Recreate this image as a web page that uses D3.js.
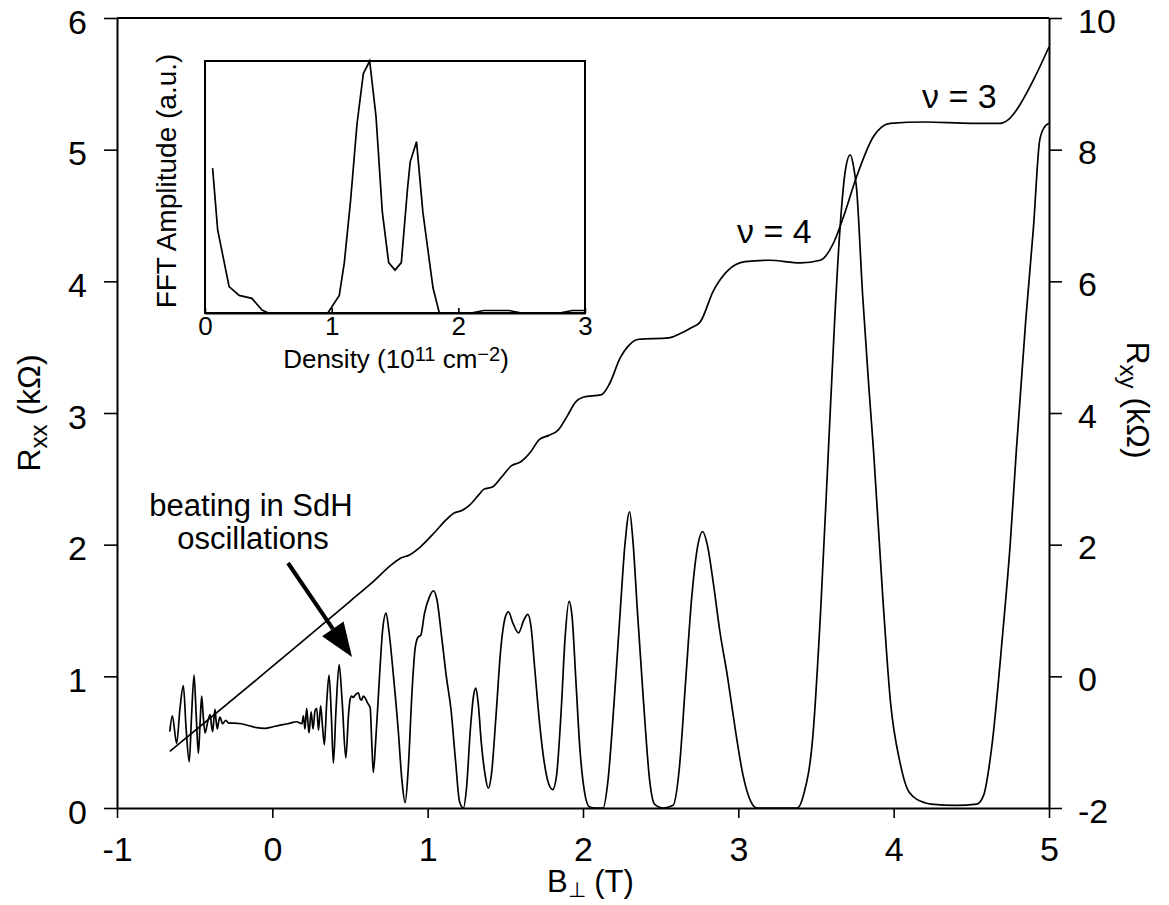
<!DOCTYPE html>
<html>
<head>
<meta charset="utf-8">
<script src="https://cdn.jsdelivr.net/npm/d3@7"></script>
<style>
  body { margin: 0; background: #fff; }
  svg { font-family: "Liberation Sans", Arial, sans-serif; }
</style>
</head>
<body>
<div id="chart"></div>
<script>
// ---- data ----
// Rxx (kΩ, left axis) vs B (T)
var rxxB = [-0.66,-0.644,-0.616,-0.595,-0.573,-0.555,-0.535,-0.52,-0.504,-0.49,-0.476,-0.465,-0.455,-0.445,-0.433,-0.415,-0.40,-0.392,-0.384,-0.376,-0.369,-0.362,-0.354,-0.345,-0.337,-0.32,-0.30,-0.28,-0.25,-0.2,-0.15,-0.1,-0.05,0,0.05,0.1,0.157,0.19,0.2,0.21,0.221,0.236,0.25,0.262,0.275,0.286,0.297,0.311,0.323,0.335,0.35,0.365,0.38,0.393,0.41,0.43,0.45,0.473,0.49,0.50,0.51,0.52,0.535,0.554,0.565,0.575,0.585,0.596,0.612,0.63,0.64,0.65,0.665,0.69,0.71,0.732,0.75,0.78,0.81,0.835,0.855,0.875,0.9,0.92,0.94,0.955,0.98,1.01,1.037,1.06,1.09,1.12,1.15,1.18,1.205,1.23,1.25,1.275,1.295,1.31,1.325,1.345,1.37,1.39,1.41,1.44,1.47,1.50,1.52,1.55,1.585,1.62,1.645,1.665,1.69,1.72,1.75,1.78,1.805,1.83,1.86,1.885,1.91,1.93,1.955,1.98,2.01,2.04,2.08,2.13,2.16,2.2,2.24,2.27,2.30,2.32,2.35,2.39,2.43,2.46,2.517,2.58,2.62,2.66,2.7,2.74,2.77,2.80,2.84,2.88,2.93,2.98,3.03,3.08,3.12,3.38,3.42,3.48,3.53,3.58,3.62,3.655,3.69,3.72,3.745,3.76,3.8,3.84,3.87,3.93,3.98,4.04,4.1,4.2,4.24,4.4,4.535,4.58,4.63,4.7,4.75,4.79,4.85,4.9,4.94,4.97,5.0];
var rxxVal = [0.58,0.70,0.49,0.75,0.93,0.6,0.35,0.7,1.01,0.7,0.415,0.65,0.85,0.7,0.57,0.66,0.71,0.63,0.58,0.68,0.75,0.66,0.60,0.66,0.69,0.64,0.665,0.645,0.645,0.64,0.625,0.61,0.605,0.615,0.63,0.64,0.655,0.64,0.7,0.6,0.757,0.57,0.73,0.6,0.74,0.757,0.59,0.775,0.62,0.48,0.8,1.01,0.7,0.34,0.75,1.09,0.8,0.38,0.7,0.82,0.85,0.84,0.86,0.875,0.83,0.82,0.85,0.84,0.8,0.76,0.5,0.27,0.5,1.0,1.35,1.48,1.35,1.0,0.6,0.2,0.04,0.3,0.9,1.22,1.30,1.31,1.48,1.6,1.65,1.58,1.3,1.0,0.75,0.35,0.05,0.0,0.15,0.6,0.85,0.91,0.8,0.5,0.25,0.15,0.25,0.7,1.2,1.45,1.49,1.4,1.33,1.43,1.47,1.38,1.05,0.65,0.35,0.18,0.14,0.25,0.75,1.3,1.57,1.45,0.95,0.45,0.12,0.01,0,0,0.2,0.8,1.5,2.0,2.25,2.05,1.5,0.8,0.2,0.03,0,0.02,0.3,0.95,1.6,2.0,2.1,2.0,1.7,1.35,1.0,0.6,0.25,0.05,0,0,0.1,0.55,1.5,2.72,3.7,4.41,4.85,4.96,4.85,4.72,3.9,3.2,2.72,1.6,0.8,0.35,0.12,0.04,0.03,0.02,0.03,0.1,0.45,1.3,2.0,2.72,3.7,4.41,5.07,5.17,5.2];

// Rxy (kΩ, right axis) vs B (T)
var rxyB = [-0.66,0.36,0.5,0.64,0.78,0.83,0.88,0.95,1.05,1.12,1.17,1.22,1.27,1.33,1.36,1.42,1.48,1.54,1.6,1.66,1.72,1.78,1.84,1.9,1.95,2.0,2.12,2.17,2.24,2.3,2.36,2.55,2.62,2.7,2.754,2.84,2.93,3.044,3.2,3.4,3.527,3.62,3.677,3.76,3.87,3.92,3.977,4.2,4.5,4.686,4.74,4.79,4.9,5.0];
var rxyVal = [-1.14,0.86,1.14,1.42,1.72,1.80,1.84,1.96,2.20,2.38,2.48,2.52,2.60,2.76,2.84,2.88,3.04,3.20,3.26,3.40,3.60,3.66,3.74,3.96,4.16,4.24,4.28,4.44,4.84,5.04,5.12,5.14,5.20,5.30,5.38,5.86,6.16,6.30,6.32,6.28,6.32,6.62,6.98,7.58,8.20,8.34,8.40,8.42,8.40,8.40,8.46,8.60,9.06,9.56];

// inset: FFT amplitude vs density (1e11 cm^-2)
var fftN = [0.06,0.10,0.19,0.27,0.37,0.45,0.5,0.97,1.06,1.10,1.15,1.20,1.25,1.30,1.35,1.40,1.45,1.5,1.55,1.60,1.62,1.67,1.72,1.8,1.85,2.1,2.2,2.4,2.5,2.8,2.9,3.0];
var fftAmp = [0.575,0.33,0.105,0.07,0.058,0.012,0,0,0.07,0.2,0.45,0.75,0.95,1.0,0.78,0.4,0.2,0.17,0.2,0.5,0.6,0.68,0.4,0.1,0,0,0.01,0.01,0,0,0.01,0.01];

var xTicks = [-1, 0, 1, 2, 3, 4, 5];
var leftTicks = [0, 1, 2, 3, 4, 5, 6];
var rightTicks = [-2, 0, 2, 4, 6, 8, 10];
var insetTicks = [0, 1, 2, 3];

// ---- layout ----
var W = 1169, H = 905;
var svg = d3.select("#chart").append("svg")
    .attr("width", W).attr("height", H);

var x = d3.scaleLinear().domain([-1, 5]).range([117, 1049]);
var yL = d3.scaleLinear().domain([0, 6]).range([808, 18]);
var yR = d3.scaleLinear().domain([-2, 10]).range([808, 18]);

var plain = function(d) { return String(d); };   // hyphen minus like the original

function styleAxis(g, size) {
  g.selectAll(".domain").attr("stroke", "#000").attr("stroke-width", 2);
  g.selectAll(".tick line").attr("stroke", "#000").attr("stroke-width", 1.6);
  g.selectAll(".tick text").attr("fill", "#000").style("font-size", size + "px");
}

// bottom axis
var gx = svg.append("g").attr("transform", "translate(0,808)")
  .call(d3.axisBottom(x).tickValues(xTicks).tickFormat(plain)
        .tickSize(10).tickSizeOuter(0).tickPadding(19));
styleAxis(gx, 34);

// left axis
var gl = svg.append("g").attr("transform", "translate(117,0)")
  .call(d3.axisLeft(yL).tickValues(leftTicks).tickFormat(plain)
        .tickSize(13).tickSizeOuter(0).tickPadding(17));
styleAxis(gl, 34);
gl.selectAll(".tick text").attr("dy", "0.45em");

// right axis
var gr = svg.append("g").attr("transform", "translate(1049,0)")
  .call(d3.axisRight(yR).tickValues(rightTicks).tickFormat(plain)
        .tickSize(13).tickSizeOuter(0).tickPadding(16));
styleAxis(gr, 34);
gr.selectAll(".tick text").attr("dy", "0.42em");

// top frame line
svg.append("line")
  .attr("x1", x(-1)).attr("x2", x(5)).attr("y1", yL(6)).attr("y2", yL(6))
  .attr("stroke", "#000").attr("stroke-width", 2);

// curves
var rxxData = rxxB.map(function(b, i) { return [b, rxxVal[i]]; });
var rxyData = rxyB.map(function(b, i) { return [b, rxyVal[i]]; });

var lineXX = d3.line().x(function(d) { return x(d[0]); })
  .y(function(d) { return yL(d[1]); }).curve(d3.curveMonotoneX);
var lineXY = d3.line().x(function(d) { return x(d[0]); })
  .y(function(d) { return yR(d[1]); }).curve(d3.curveMonotoneX);

svg.append("path").datum(rxxData).attr("d", lineXX)
  .attr("fill", "none").attr("stroke", "#000").attr("stroke-width", 1.7);
svg.append("path").datum(rxyData).attr("d", lineXY)
  .attr("fill", "none").attr("stroke", "#000").attr("stroke-width", 1.7);

// axis titles
var bt = svg.append("text").attr("x", 547).attr("y", 892)
  .style("font-size", "31px");
bt.append("tspan").text("B");
bt.append("tspan").attr("dy", 5).style("font-size", "21px").text("\u22A5");
bt.append("tspan").attr("dy", -5).text(" (T)");

var lt = svg.append("text").attr("transform", "translate(40,413) rotate(-90)")
  .attr("text-anchor", "middle").style("font-size", "32px");
lt.append("tspan").text("R");
lt.append("tspan").attr("dy", 7).style("font-size", "24px").text("xx");
lt.append("tspan").attr("dy", -7).text(" (k\u03A9)");

var rt = svg.append("text").attr("transform", "translate(1127,400) rotate(90)")
  .attr("text-anchor", "middle").style("font-size", "32px");
rt.append("tspan").text("R");
rt.append("tspan").attr("dy", 7).style("font-size", "24px").text("xy");
rt.append("tspan").attr("dy", -7).text(" (k\u03A9)");

// annotations
svg.append("text").attr("x", 737).attr("y", 243).style("font-size", "34px").text("\u03BD = 4");
svg.append("text").attr("x", 922).attr("y", 108).style("font-size", "34px").text("\u03BD = 3");

svg.append("text").attr("x", 251).attr("y", 516).attr("text-anchor", "middle")
  .style("font-size", "31px").text("beating in SdH");
svg.append("text").attr("x", 253).attr("y", 549).attr("text-anchor", "middle")
  .style("font-size", "31px").text("oscillations");

// arrow
var tail = [288, 563], tip = [352, 657];
var ang = Math.atan2(tip[1] - tail[1], tip[0] - tail[0]);
var hl = 34, hw = 13;
var base = [tip[0] - hl * Math.cos(ang), tip[1] - hl * Math.sin(ang)];
svg.append("line").attr("x1", tail[0]).attr("y1", tail[1])
  .attr("x2", base[0]).attr("y2", base[1])
  .attr("stroke", "#000").attr("stroke-width", 4);
svg.append("path")
  .attr("d", "M" + tip[0] + "," + tip[1] +
    "L" + (base[0] + hw * Math.sin(ang)) + "," + (base[1] - hw * Math.cos(ang)) +
    "L" + (base[0] - hw * Math.sin(ang)) + "," + (base[1] + hw * Math.cos(ang)) + "Z")
  .attr("fill", "#000");

// ---- inset ----
var ix0 = 205, ix1 = 585, iy0 = 61, iy1 = 313;
var xi = d3.scaleLinear().domain([0, 3]).range([ix0, ix1]);
var yi = d3.scaleLinear().domain([0, 1]).range([iy1, iy0]);

svg.append("rect").attr("x", ix0).attr("y", iy0).attr("width", ix1 - ix0).attr("height", iy1 - iy0)
  .attr("fill", "none").attr("stroke", "#000").attr("stroke-width", 2);

var gi = svg.append("g").attr("transform", "translate(0," + iy1 + ")")
  .call(d3.axisBottom(xi).tickValues(insetTicks).tickFormat(plain)
        .tickSize(-5).tickSizeOuter(0).tickPadding(4));
styleAxis(gi, 26);

var fftData = fftN.map(function(n, i) { return [n, fftAmp[i]]; });
svg.append("path").datum(fftData)
  .attr("d", d3.line().x(function(d) { return xi(d[0]); }).y(function(d) { return yi(d[1]); }))
  .attr("fill", "none").attr("stroke", "#000").attr("stroke-width", 1.7);

var it = svg.append("text").attr("x", 396).attr("y", 368)
  .attr("text-anchor", "middle").style("font-size", "26px");
it.append("tspan").text("Density (10");
it.append("tspan").attr("dy", -7).style("font-size", "20px").text("11");
it.append("tspan").attr("dy", 7).text(" cm");
it.append("tspan").attr("dy", -7).style("font-size", "20px").text("\u22122");
it.append("tspan").attr("dy", 7).text(")");

svg.append("text").attr("transform", "translate(176,181) rotate(-90)")
  .attr("text-anchor", "middle").style("font-size", "28px").text("FFT Amplitude (a.u.)");
</script>
</body>
</html>
